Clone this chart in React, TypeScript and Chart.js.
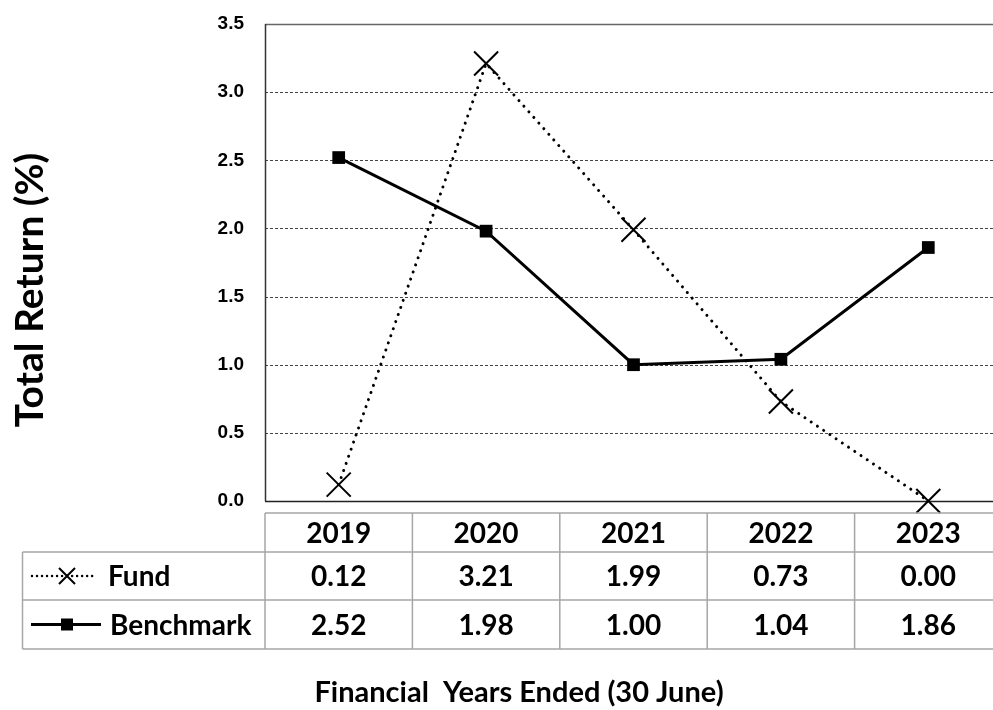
import React, { useEffect, useRef } from "react";
import { Chart, registerables } from "chart.js";

Chart.register(...registerables);

const categories = ["2019", "2020", "2021", "2022", "2023"];
const fundValues = [0.12, 3.21, 1.99, 0.73, 0.0];
const benchmarkValues = [2.52, 1.98, 1.0, 1.04, 1.86];
const seriesNames = ["Fund", "Benchmark"];
const yTicks = [0, 0.5, 1.0, 1.5, 2.0, 2.5, 3.0, 3.5];
const yTitle = "Total Return (%)";
const xTitle = "Financial  Years Ended (30 June)";

const TABLE_FONT = "bold 28px Lato, 'Open Sans', sans-serif";

const overlayPlugin = {
  id: "overlay",
  beforeDatasetsDraw(chart: any) {
    const { ctx, chartArea } = chart;
    const y = chart.scales.y;
    ctx.save();
    yTicks.forEach((v) => {
      const py = Math.round(y.getPixelForValue(v)) + 0.5;
      ctx.beginPath();
      if (v === 0) {
        ctx.strokeStyle = "#222";
        ctx.lineWidth = 1.5;
        ctx.setLineDash([]);
      } else if (v === 3.5) {
        ctx.strokeStyle = "#666";
        ctx.lineWidth = 1.5;
        ctx.setLineDash([]);
      } else {
        ctx.strokeStyle = "#444";
        ctx.lineWidth = 1;
        ctx.setLineDash([3, 2]);
      }
      ctx.moveTo(chartArea.left, py);
      ctx.lineTo(chartArea.right, py);
      ctx.stroke();
    });
    ctx.setLineDash([]);
    ctx.strokeStyle = "#333";
    ctx.lineWidth = 1.5;
    ctx.beginPath();
    ctx.moveTo(chartArea.left + 0.5, chartArea.top);
    ctx.lineTo(chartArea.left + 0.5, chartArea.bottom);
    ctx.stroke();

    // y tick labels
    ctx.fillStyle = "#000";
    ctx.font = "bold 19px 'Liberation Sans', Arial, sans-serif";
    ctx.textAlign = "right";
    ctx.textBaseline = "middle";
    yTicks.forEach((v) => {
      ctx.fillText(v.toFixed(1), chartArea.left - 21, y.getPixelForValue(v));
    });
    ctx.restore();
  },
  afterDraw(chart: any) {
    const { ctx, chartArea } = chart;
    const x = chart.scales.x;
    const b = chartArea.bottom;
    const rowTops = [b + 12, b + 51, b + 99, b + 148];
    const half = (x.getPixelForValue(1) - x.getPixelForValue(0)) / 2;
    const bounds: number[] = [];
    categories.forEach((_, i) => bounds.push(x.getPixelForValue(i) - half));
    bounds.push(x.getPixelForValue(categories.length - 1) + half);
    const legendLeft = 22.5;
    const right = bounds[bounds.length - 1];

    ctx.save();
    ctx.strokeStyle = "#a6a6a6";
    ctx.lineWidth = 1.5;
    ctx.setLineDash([]);
    ctx.beginPath();
    ctx.moveTo(bounds[0], rowTops[0]);
    ctx.lineTo(right, rowTops[0]);
    for (let r = 1; r < rowTops.length; r++) {
      ctx.moveTo(legendLeft, rowTops[r]);
      ctx.lineTo(right, rowTops[r]);
    }
    bounds.forEach((bx) => {
      ctx.moveTo(bx, rowTops[0]);
      ctx.lineTo(bx, rowTops[3]);
    });
    ctx.moveTo(legendLeft, rowTops[1]);
    ctx.lineTo(legendLeft, rowTops[3]);
    ctx.stroke();

    ctx.fillStyle = "#000";
    ctx.font = TABLE_FONT;
    ctx.textAlign = "center";
    ctx.textBaseline = "middle";
    const rowsData = [fundValues, benchmarkValues];
    categories.forEach((c, i) => {
      const cx = x.getPixelForValue(i);
      ctx.fillText(c, cx, (rowTops[0] + rowTops[1]) / 2 + 1);
      rowsData.forEach((vals, r) => {
        ctx.fillText(vals[i].toFixed(2), cx, (rowTops[r + 1] + rowTops[r + 2]) / 2 + 1);
      });
    });

    const ly1 = (rowTops[1] + rowTops[2]) / 2;
    const ly2 = (rowTops[2] + rowTops[3]) / 2;
    ctx.strokeStyle = "#000";
    ctx.lineWidth = 2.5;
    ctx.lineCap = "round";
    ctx.setLineDash([0.01, 5]);
    ctx.beginPath();
    ctx.moveTo(32, ly1);
    ctx.lineTo(97, ly1);
    ctx.stroke();
    ctx.setLineDash([]);
    ctx.lineCap = "butt";
    ctx.lineWidth = 2;
    ctx.beginPath();
    ctx.moveTo(59, ly1 - 8);
    ctx.lineTo(75, ly1 + 8);
    ctx.moveTo(75, ly1 - 8);
    ctx.lineTo(59, ly1 + 8);
    ctx.stroke();
    ctx.lineWidth = 3;
    ctx.beginPath();
    ctx.moveTo(31, ly2);
    ctx.lineTo(101, ly2);
    ctx.stroke();
    ctx.fillRect(61, ly2 - 6, 12, 12);

    ctx.textAlign = "left";
    ctx.fillText(seriesNames[0], 108, ly1 + 1);
    ctx.fillText(seriesNames[1], 110, ly2 + 1);

    ctx.textAlign = "center";
    ctx.font = "bold 29px Lato, 'Open Sans', sans-serif";
    ctx.fillText(xTitle, 519, 693);

    ctx.save();
    ctx.translate(30, 290);
    ctx.rotate(-Math.PI / 2);
    ctx.font = "bold 39px Lato, 'Open Sans', sans-serif";
    ctx.fillText(yTitle, 0, 0);
    ctx.restore();

    ctx.restore();
  },
};

export default function App() {
  const ref = useRef<HTMLCanvasElement | null>(null);
  useEffect(() => {
    if (!ref.current) return;
    const chart = new Chart(ref.current, {
      type: "line",
      data: {
        labels: categories,
        datasets: [
          {
            label: seriesNames[1],
            data: benchmarkValues,
            borderColor: "#000",
            backgroundColor: "#000",
            borderWidth: 3,
            pointStyle: "rect",
            pointRadius: 9,
            pointHoverRadius: 9,
            pointBackgroundColor: "#000",
            pointBorderColor: "#000",
            pointBorderWidth: 0,
            tension: 0,
            clip: false as any,
          },
          {
            label: seriesNames[0],
            data: fundValues,
            borderColor: "#000",
            backgroundColor: "#000",
            borderWidth: 3,
            borderCapStyle: "round",
            borderDash: [0.01, 7.5],
            pointStyle: "crossRot",
            pointRadius: 17,
            pointHoverRadius: 17,
            pointBorderColor: "#000",
            pointBorderWidth: 2,
            tension: 0,
            clip: false as any,
          },
        ],
      },
      options: {
        responsive: false,
        animation: false,
        devicePixelRatio: 1,
        layout: { autoPadding: false, padding: { top: 24, right: 8, bottom: 209, left: 0 } },
        plugins: {
          legend: { display: false },
          tooltip: { enabled: false },
        },
        scales: {
          x: {
            type: "category",
            display: false,
            offset: true,
          },
          y: {
            min: 0,
            max: 3.5,
            afterFit: (s: any) => {
              s.width = 265;
            },
            grid: { display: false, drawTicks: false },
            border: { display: false },
            ticks: { display: false, stepSize: 0.5 },
          },
        },
      },
      plugins: [overlayPlugin],
    });
    return () => chart.destroy();
  }, []);
  return (
    <div style={{ position: "absolute", left: 0, top: 0, width: 993, height: 710, overflow: "hidden", background: "#fff" }}>
      <canvas ref={ref} width={1010} height={710} style={{ display: "block", width: 1010, height: 710 }} />
    </div>
  );
}
